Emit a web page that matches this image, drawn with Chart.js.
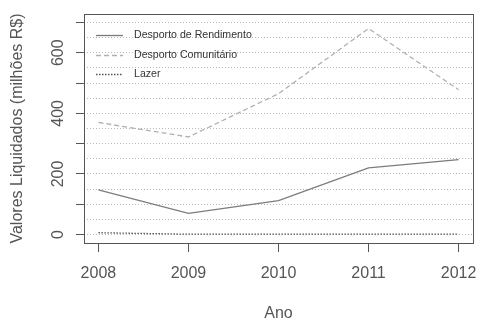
<!DOCTYPE html>
<html><head><meta charset="utf-8">
<script src="https://cdn.jsdelivr.net/npm/chart.js@4"></script>
<style>html,body{margin:0;padding:0;background:#fff}#wrap{width:478px;height:319px}</style>
</head><body><div id="wrap"><canvas id="c" width="478" height="319"></canvas></div>
<script>
// ---- data ----
const years = [2008, 2009, 2010, 2011, 2012];
const rendimento = [147, 70, 112, 220, 247];
const comunitario = [370, 322, 465, 680, 478];
const lazer = [6, 1, 1, 1, 1];
const seriesNames = ['Desporto de Rendimento', 'Desporto Comunitário', 'Lazer'];
const yGridValues = [0, 50, 100, 150, 200, 250, 300, 350, 400, 450, 500, 550, 600, 650, 700];
const xTitle = 'Ano';
const yTitle = 'Valores Liquidados (milhões R$)';

const FONT = 'Liberation Sans, Arial, Helvetica, sans-serif';
const toPts = arr => years.map((yr, i) => ({x: yr, y: arr[i]}));

const boxPlugin = {
  id: 'box',
  afterDraw(chart) {
    const {ctx, chartArea: a} = chart;
    ctx.save();
    ctx.strokeStyle = '#555';
    ctx.lineWidth = 1;
    ctx.setLineDash([]);
    ctx.strokeRect(Math.round(a.left) + 0.5, Math.round(a.top) + 0.5,
      Math.round(a.right - a.left), Math.round(a.bottom - a.top));
    ctx.restore();
  }
};

const legendPlugin = {
  id: 'rlegend',
  afterDraw(chart) {
    const {ctx, chartArea: a} = chart;
    ctx.save();
    ctx.font = '10.6px ' + FONT;
    ctx.textBaseline = 'middle';
    ctx.textAlign = 'left';
    chart.data.datasets.forEach((ds, i) => {
      const y = Math.round(a.top + 21 + i * 19.5) + 0.5;
      ctx.strokeStyle = ds.borderColor;
      ctx.lineWidth = ds.borderWidth;
      ctx.setLineDash(ds.borderDash || []);
      ctx.beginPath();
      ctx.moveTo(a.left + 12, y);
      ctx.lineTo(a.left + 39, y);
      ctx.stroke();
      ctx.fillStyle = '#333';
      ctx.fillText(ds.label, a.left + 50, y);
    });
    ctx.restore();
  }
};

new Chart(document.getElementById('c'), {
  type: 'line',
  data: {
    datasets: [
      {label: seriesNames[0], data: toPts(rendimento), borderColor: '#7c7c7c', borderWidth: 1.3, borderDash: []},
      {label: seriesNames[1], data: toPts(comunitario), borderColor: '#b0b0b0', borderWidth: 1.3, borderDash: [5, 3]},
      {label: seriesNames[2], data: toPts(lazer), borderColor: '#555', borderWidth: 1.3, borderDash: [1.5, 1.5]}
    ]
  },
  options: {
    responsive: false,
    animation: false,
    devicePixelRatio: 1,
    layout: {padding: {top: 14, right: 5, left: 0, bottom: 0}},
    elements: {line: {tension: 0, fill: false}, point: {radius: 0}},
    plugins: {legend: {display: false}, tooltip: {enabled: false}},
    scales: {
      x: {
        type: 'linear', min: 2007.84, max: 2012.16,
        afterBuildTicks: s => { s.ticks = years.map(v => ({value: v})); },
        afterFit: s => { s.height = 76; s.paddingLeft = 0; s.paddingRight = 0; s.paddingTop = 0; s.paddingBottom = 0; },
        border: {display: false},
        grid: {drawOnChartArea: false, drawTicks: true, tickLength: 9, color: '#555', tickColor: '#555'},
        ticks: {font: {family: FONT, size: 16}, color: '#555', padding: 12, autoSkip: false, maxRotation: 0,
          callback: v => String(v)},
        title: {display: true, text: xTitle, font: {family: FONT, size: 16}, color: '#555', padding: {top: 0, bottom: -4}}
      },
      y: {
        type: 'linear', min: -28, max: 728,
        afterBuildTicks: s => { s.ticks = yGridValues.map(v => ({value: v})); },
        afterFit: s => { s.width = 84; s.paddingLeft = 0; s.paddingRight = 0; s.paddingTop = 0; s.paddingBottom = 0; },
        border: {display: false, dash: [1, 2]},
        grid: {
          color: '#b8b8b8', lineWidth: 1, drawTicks: true, tickLength: 8,
          tickBorderDash: [],
          tickColor: ctx => (ctx.tick && ctx.tick.value % 100 === 0) ? '#555' : 'rgba(0,0,0,0)'
        },
        ticks: {font: {family: FONT, size: 16}, color: '#555', padding: 4, minRotation: 90, maxRotation: 90,
          crossAlign: 'center', autoSkip: false,
          callback: v => (v % 200 === 0 ? String(v) : '')},
        title: {display: true, text: yTitle, font: {family: FONT, size: 16}, color: '#555', padding: {top: 8, bottom: 0}}
      }
    }
  },
  plugins: [boxPlugin, legendPlugin]
});
</script>
</body></html>
